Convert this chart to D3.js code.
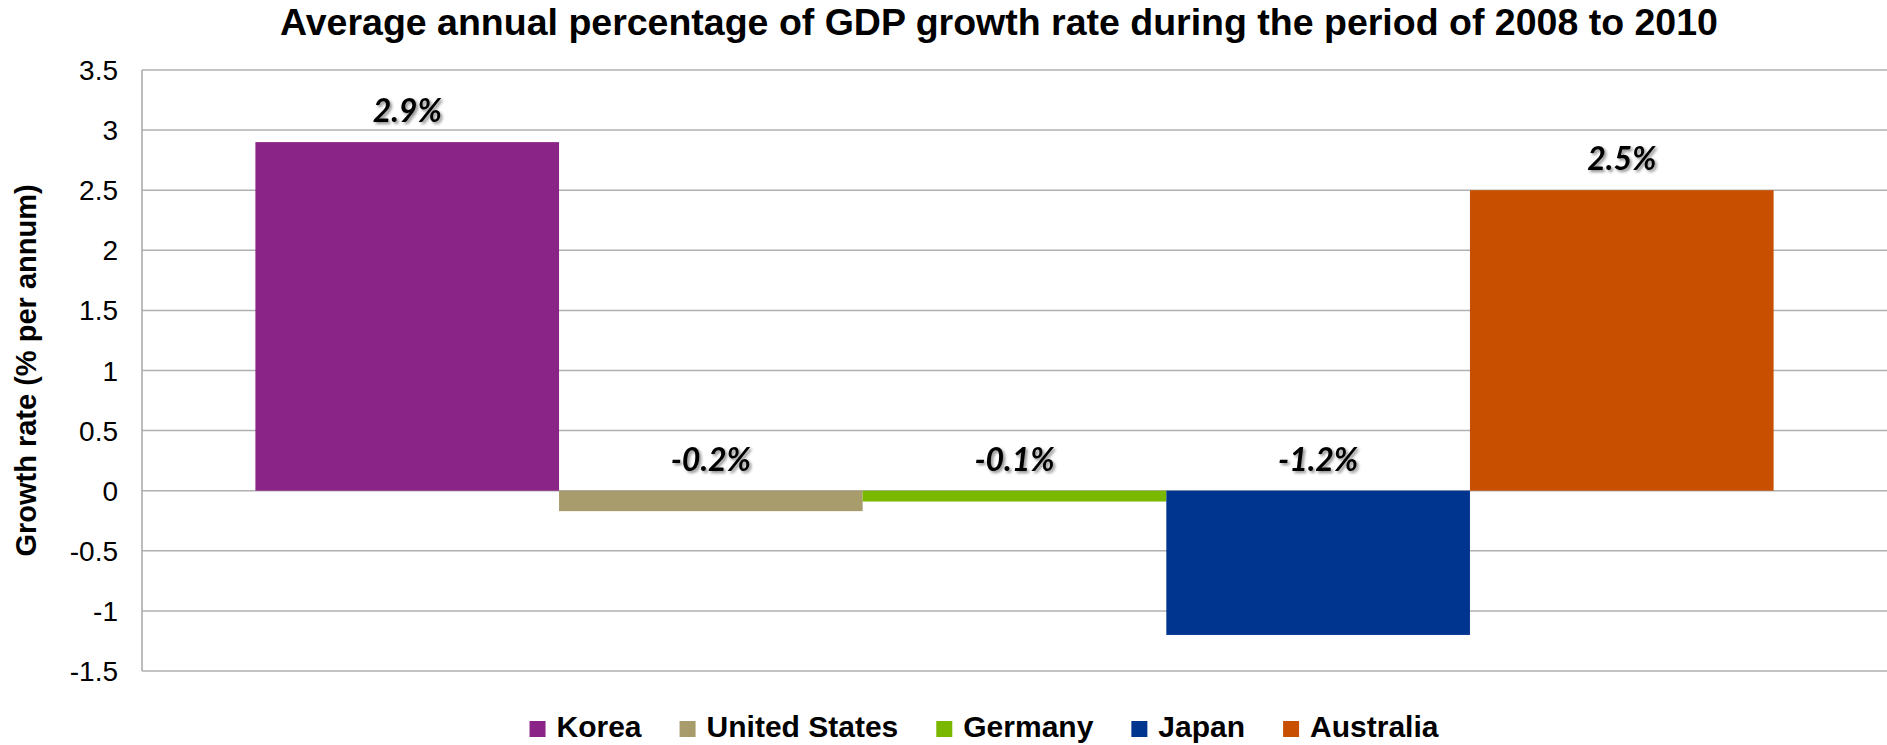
<!DOCTYPE html>
<html>
<head>
<meta charset="utf-8">
<script src="https://cdn.jsdelivr.net/npm/d3@7/dist/d3.min.js"></script>
<style>
  html, body { margin: 0; padding: 0; background: #fff; }
  svg { display: block; font-family: "Liberation Sans", Arial, sans-serif; }
</style>
</head>
<body>
<div id="chart"></div>
<script>
// GDP growth 2008-2010, one bar per country
const countries = ['Korea', 'United States', 'Germany', 'Japan', 'Australia'];
const growth = [2.9, -0.17, -0.09, -1.2, 2.5];
const labels = ['2.9%', '-0.2%', '-0.1%', '-1.2%', '2.5%'];
const colors = ['#8b2487', '#a89c6c', '#7ab800', '#00358f', '#c84f00'];
const yTicks = [3.5, 3, 2.5, 2, 1.5, 1, 0.5, 0, -0.5, -1, -1.5];

(function(){
  const W = 1887, H = 745;
  const margin = {t: 70, r: 0, b: 74, l: 142};
  const w = W - margin.l - margin.r;
  const h = H - margin.t - margin.b;

  const svg = d3.select('#chart').append('svg').attr('width', W).attr('height', H);

  // shadow for the data labels
  const defs = svg.append('defs');
  const f = defs.append('filter').attr('id', 'shadow').attr('x', '-20%').attr('y', '-20%').attr('width', '140%').attr('height', '160%');
  f.append('feDropShadow').attr('dx', 2).attr('dy', 2).attr('stdDeviation', 1.6).attr('flood-color', '#000').attr('flood-opacity', 0.45);

  const g = svg.append('g').attr('transform', `translate(${margin.l},${margin.t})`);

  const y = d3.scaleLinear().domain([-1.5, 3.5]).range([h, 0]);

  // single category group, bars side by side
  const group = d3.scaleBand().domain(['all']).range([0, w]).paddingInner(0.0695).paddingOuter(0.0695);
  const x = d3.scaleBand().domain(countries).range([group('all'), group('all') + group.bandwidth()]);

  // gridlines
  g.append('g').selectAll('line').data(yTicks).join('line')
    .attr('x1', 0).attr('x2', w)
    .attr('y1', d => y(d)).attr('y2', d => y(d))
    .attr('stroke', '#b0b0b0').attr('stroke-width', 1.5);

  // y axis line + labels
  g.append('line').attr('x1', 0).attr('x2', 0).attr('y1', 0).attr('y2', h)
    .attr('stroke', '#a6a6a6').attr('stroke-width', 1.5);
  g.append('g').selectAll('text').data(yTicks).join('text')
    .attr('x', -24).attr('y', d => y(d)).attr('dy', '0.36em')
    .attr('text-anchor', 'end').attr('font-size', 28).attr('fill', '#000')
    .text(d => d3.format('')(d).replace('−', '-'));

  // bars
  g.append('g').selectAll('rect').data(countries).join('rect')
    .attr('x', d => x(d)).attr('width', x.bandwidth())
    .attr('y', (d, i) => y(Math.max(0, growth[i])))
    .attr('height', (d, i) => Math.abs(y(growth[i]) - y(0)))
    .attr('fill', (d, i) => colors[i]);

  // data labels (bold italic with soft shadow)
  g.append('g').selectAll('text').data(countries).join('text')
    .attr('x', d => x(d) + x.bandwidth() / 2)
    .attr('y', (d, i) => y(Math.max(0, growth[i])) - 20)
    .attr('text-anchor', 'middle')
    .attr('font-family', 'Lato, "Open Sans", sans-serif')
    .attr('font-weight', 'bold').attr('font-style', 'italic')
    .attr('font-size', 32).attr('fill', '#000')
    .attr('filter', 'url(#shadow)')
    .text((d, i) => labels[i]);

  // title
  svg.append('text').attr('x', 999).attr('y', 35).attr('text-anchor', 'middle')
    .attr('font-weight', 'bold').attr('font-size', 37.5).attr('fill', '#000')
    .text('Average annual percentage of GDP growth rate during the period of 2008 to 2010');

  // y axis title
  svg.append('text').attr('transform', `translate(36,${margin.t + h / 2}) rotate(-90)`)
    .attr('text-anchor', 'middle').attr('font-weight', 'bold').attr('font-size', 29)
    .text('Growth rate (% per annum)');

  // legend
  const legend = svg.append('g');
  let lx = 0;
  countries.forEach((c, i) => {
    const item = legend.append('g').attr('transform', `translate(${lx},0)`);
    item.append('rect').attr('x', 0).attr('y', -16).attr('width', 16).attr('height', 16).attr('fill', colors[i]);
    const t = item.append('text').attr('x', 27).attr('y', 0).attr('font-weight', 'bold').attr('font-size', 30).text(c);
    lx += 27 + t.node().getComputedTextLength() + 38;
  });
  const lw = lx - 38;
  legend.attr('transform', `translate(${984 - lw / 2},737)`);
})();
</script>
</body>
</html>
